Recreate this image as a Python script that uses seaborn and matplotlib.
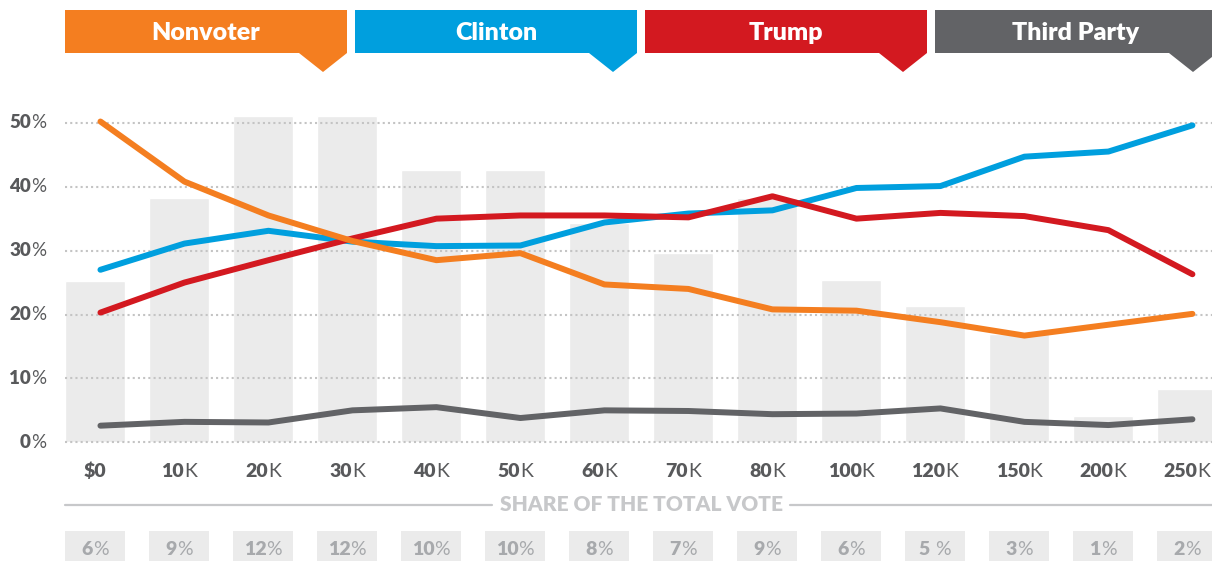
import matplotlib
matplotlib.use("Agg")
import matplotlib.pyplot as plt
import matplotlib.transforms as mtransforms
from matplotlib.patches import Polygon, Rectangle
from matplotlib.lines import Line2D
from matplotlib.offsetbox import TextArea, HPacker, AnnotationBbox
import numpy as np
import pandas as pd
import seaborn as sns

# income brackets and the share of the total vote in each
income_num = ["$0", "10", "20", "30", "40", "50", "60", "70", "80", "100", "120", "150", "200", "250"]
income_suffix = ["", "K", "K", "K", "K", "K", "K", "K", "K", "K", "K", "K", "K", "K"]
share_label = ["6", "9", "12", "12", "10", "10", "8", "7", "9", "6", "5 ", "3", "1", "2"]
share_bar = [5.95, 8.97, 12.0, 12.0, 10.0, 10.0, 8.05, 6.95, 9.0, 5.97, 5.0, 4.0, 0.97, 1.95]

# percent of each bracket
nonvoter = [50.2, 40.8, 35.5, 31.5, 28.5, 29.6, 24.7, 24.0, 20.8, 20.6, 18.8, 16.7, 18.4, 20.1]
clinton = [27.0, 31.1, 33.1, 31.4, 30.7, 30.8, 34.4, 35.8, 36.3, 39.8, 40.1, 44.7, 45.5, 49.6]
trump = [20.3, 25.0, 28.5, 31.9, 35.0, 35.5, 35.5, 35.2, 38.5, 35.0, 35.9, 35.4, 33.2, 26.3]
third_party = [2.6, 3.2, 3.1, 5.0, 5.5, 3.8, 5.0, 4.9, 4.4, 4.5, 5.3, 3.2, 2.7, 3.6]

groups = ["Nonvoter", "Clinton", "Trump", "Third Party"]
colors = {"Nonvoter": "#F47E20", "Clinton": "#009FDE", "Trump": "#D31920", "Third Party": "#626366"}
draw_order = ["Third Party", "Clinton", "Trump", "Nonvoter"]
y_ticks = [0, 10, 20, 30, 40, 50]

sns.set_style("white")
plt.rcParams["font.family"] = ["Lato", "DejaVu Sans"]

W, H = 1212, 561
fig = plt.figure(figsize=(W / 100, H / 100), dpi=100)
# pixel coordinates, origin top-left
pix = mtransforms.Affine2D().scale(1 / W, -1 / H).translate(0, 1) + fig.transFigure

px_per_pct = 6.39
y0_px = 442.3
ylo, yhi = -0.4, 52.5
bot_px = y0_px - ylo * px_per_pct
top_px = y0_px - yhi * px_per_pct
ax = fig.add_axes([65 / W, 1 - bot_px / H, (W - 65) / W, (bot_px - top_px) / H])

bar_scale = 4.255  # one share point in chart percent
x_pos = np.arange(len(income_num))
sns.barplot(x=x_pos, y=share_bar, color="#EBEBEB", saturation=1, width=0.714,
            native_scale=True, ax=ax)
ax.set_ylim(ylo / bar_scale, yhi / bar_scale)

ax2 = ax.twinx()
df = pd.DataFrame({
    "x": np.tile(x_pos + 0.065, 4),
    "value": nonvoter + clinton + trump + third_party,
    "group": np.repeat(groups, len(x_pos)),
})
sns.lineplot(data=df, x="x", y="value", hue="group", hue_order=draw_order,
             palette=colors, linewidth=4.3, legend=False, ax=ax2, sort=False)
for ln in ax2.lines:
    ln.set_solid_capstyle("round")
    ln.set_solid_joinstyle("round")
    ln.set_clip_on(False)
    ln.set_zorder(3)

ax2.set_ylim(ylo, yhi)
ax2.set_yticks(y_ticks)
ax2.grid(axis="y", color="#C4C4C4", linestyle=(0, (1, 1.5)), linewidth=1.5)
ax2.set_axisbelow(True)
for a in (ax, ax2):
    a.set_xlim(-0.357, 13.298)
    a.tick_params(length=0, labelleft=False, labelright=False, labelbottom=False)
    a.set_xlabel("")
    a.set_ylabel("")
    for s in a.spines.values():
        s.set_visible(False)
ax.grid(False)


def label_box(parts, props):
    areas = [TextArea(t, textprops=p) for t, p in zip(parts, props) if t]
    return HPacker(children=areas, align="baseline", pad=0, sep=0)


dark = "#58595B"
light = "#A7A9AC"
bold_d = dict(fontsize=14, fontweight="heavy", color=dark)
reg_d = dict(fontsize=14, fontweight="normal", color=dark)

# y tick labels
ytr = mtransforms.blended_transform_factory(pix, ax2.transData)
for v in y_ticks:
    box = label_box([str(v), "%"], [dict(bold_d, fontsize=13.5), dict(reg_d, fontsize=13.5)])
    ab = AnnotationBbox(box, (46, v), xycoords=ytr, frameon=False, pad=0,
                        box_alignment=(1, 0.5), annotation_clip=False)
    ax2.add_artist(ab)

# x tick labels and share-of-vote row
xtr = mtransforms.blended_transform_factory(ax.transData, pix)
for i, (num, suf) in enumerate(zip(income_num, income_suffix)):
    box = label_box([num, suf], [bold_d, reg_d])
    ab = AnnotationBbox(box, (i, 471.5), xycoords=xtr, frameon=False, pad=0,
                        box_alignment=(0.5, 0.5), annotation_clip=False)
    ax2.add_artist(ab)
    ax2.add_artist(Rectangle((i - 0.357, 531), 0.714, 40, transform=xtr,
                             facecolor="#EBEBEB", edgecolor="none", clip_on=False))
    box = label_box([share_label[i], "%"],
                    [dict(bold_d, color=light), dict(reg_d, color=light)])
    ab = AnnotationBbox(box, (i, 550), xycoords=xtr, frameon=False, pad=0,
                        box_alignment=(0.5, 0.5), annotation_clip=False)
    ax2.add_artist(ab)

# "share of the total vote" divider
fig.text(641, 505, "SHARE OF THE TOTAL VOTE", transform=pix, ha="center", va="center",
         fontsize=15, fontweight="heavy", color="#C7C8CA")
fig.add_artist(Line2D([65, 492], [505.5, 505.5], transform=pix, color="#C7C8CA", lw=1.6))
fig.add_artist(Line2D([790, 1212], [505.5, 505.5], transform=pix, color="#C7C8CA", lw=1.6))

# header tabs
for k, g in enumerate(groups):
    left = 65 + 290 * k
    right = left + 282
    verts = [(left, 10), (right, 10), (right, 53), (right - 24, 72), (right - 48, 53), (left, 53)]
    fig.add_artist(Polygon(verts, closed=True, transform=pix, facecolor=colors[g],
                           edgecolor="none"))
    fig.text((left + right) / 2, 33, g, transform=pix, ha="center", va="center",
             fontsize=18, fontweight="heavy", color="white")

fig.savefig("out.png", dpi=100)
